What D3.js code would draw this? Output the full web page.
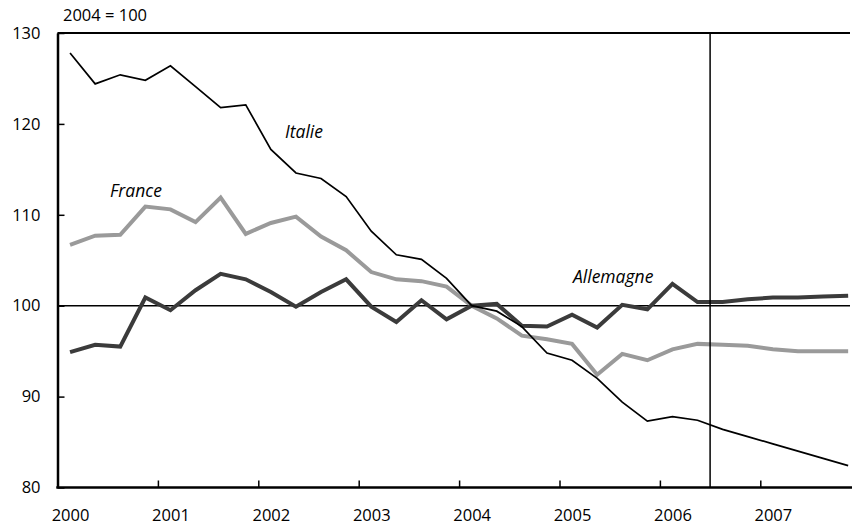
<!DOCTYPE html>
<html>
<head>
<meta charset="utf-8">
<script src="https://cdn.jsdelivr.net/npm/d3@7"></script>
<style>
  html, body { margin: 0; padding: 0; background: #fff; }
  svg { display: block; font-family: "Open Sans", sans-serif; }
</style>
</head>
<body>
<svg id="chart" width="854" height="529"></svg>
<script>
// Quarterly data, 2000Q1 .. 2007Q4 (2004 = 100)
const years = [2000, 2001, 2002, 2003, 2004, 2005, 2006, 2007];
const yTicks = [80, 90, 100, 110, 120, 130];
const italie = [127.8, 124.4, 125.4, 124.8, 126.4, 124.1, 121.8, 122.1,
                117.2, 114.6, 114.0, 112.0, 108.2, 105.6, 105.1, 103.0,
                100.0, 99.4, 97.7, 94.8, 94.0, 92.0, 89.4, 87.3,
                87.8, 87.4, 86.4, 85.6, 84.8, 84.0, 83.2, 82.4];
const france = [106.7, 107.7, 107.8, 110.9, 110.6, 109.2, 111.9, 107.9,
                109.1, 109.8, 107.6, 106.1, 103.7, 102.9, 102.7, 102.1,
                100.0, 98.6, 96.7, 96.3, 95.8, 92.4, 94.7, 94.0,
                95.2, 95.8, 95.7, 95.6, 95.2, 95.0, 95.0, 95.0];
const allemagne = [94.9, 95.7, 95.5, 100.9, 99.5, 101.7, 103.5, 102.9,
                   101.5, 99.9, 101.5, 102.9, 99.9, 98.2, 100.6, 98.5,
                   100.0, 100.2, 97.8, 97.7, 99.0, 97.6, 100.1, 99.6,
                   102.4, 100.4, 100.4, 100.7, 100.9, 100.9, 101.0, 101.1];
const forecastStart = 2006.5;
const baseValue = 100;

(function () {
const svg = d3.select("#chart");
const pL = 57.5, pT = 33, pB = 487.5, pR = 850;

const x = d3.scaleLinear().domain([2000, 2008]).range([pL, pL + 8 * 100.4]);
const y = d3.scaleLinear().domain([80, 130]).range([pB, pT]);

const tOf = i => 2000 + Math.floor(i / 4) + ((i % 4) + 0.5) / 4;

// 100 reference line
svg.append("line")
  .attr("x1", pL).attr("x2", pR)
  .attr("y1", y(baseValue)).attr("y2", y(baseValue))
  .attr("stroke", "#000").attr("stroke-width", 1.5);

// series
const line = d3.line().x((d, i) => x(tOf(i))).y(d => y(d));
svg.append("path").datum(france).attr("d", line)
  .attr("fill", "none").attr("stroke", "#9a9a9a").attr("stroke-width", 4)
  .attr("stroke-linejoin", "miter");
svg.append("path").datum(allemagne).attr("d", line)
  .attr("fill", "none").attr("stroke", "#3b3b3b").attr("stroke-width", 4)
  .attr("stroke-linejoin", "miter");
svg.append("path").datum(italie).attr("d", line)
  .attr("fill", "none").attr("stroke", "#000").attr("stroke-width", 1.7)
  .attr("stroke-linejoin", "miter");

// forecast vertical line
svg.append("line")
  .attr("x1", x(forecastStart)).attr("x2", x(forecastStart))
  .attr("y1", pT).attr("y2", pB)
  .attr("stroke", "#000").attr("stroke-width", 1.5);

// top border
svg.append("line")
  .attr("x1", pL).attr("x2", pR)
  .attr("y1", pT).attr("y2", pT)
  .attr("stroke", "#000").attr("stroke-width", 2);

// y axis
const yAxis = d3.axisLeft(y).tickValues(yTicks).tickSizeInner(-7).tickSizeOuter(0).tickPadding(17);
const gy = svg.append("g").attr("transform", `translate(${pL},0)`).call(yAxis);
gy.select(".domain").attr("stroke-width", 2.5);
gy.selectAll(".tick line").attr("stroke-width", 1.5);
gy.selectAll(".tick text").attr("font-size", 16.5).attr("fill", "#000")
  .attr("font-family", "'Open Sans', sans-serif");

// x axis
const xAxis = d3.axisBottom(x).tickValues(years).tickSizeInner(-7).tickSizeOuter(0)
  .tickFormat(d3.format("d")).tickPadding(22);
const gx = svg.append("g").attr("transform", `translate(0,${pB})`).call(xAxis);
gx.select(".domain").attr("d", `M${pL - 1.2},0H${pR + 2}`).attr("stroke-width", 2.5);
gx.selectAll(".tick line").attr("stroke-width", 1.5);
gx.selectAll(".tick text").attr("font-size", 16.5).attr("fill", "#000")
  .attr("font-family", "'Open Sans', sans-serif")
  .attr("dx", x(2000.125) - x(2000));

// unit label
svg.append("text").attr("x", 63).attr("y", 21).attr("font-size", 16.5).text("2004 = 100");

// series labels
const lab = (t, xx, yy) => svg.append("text").attr("x", xx).attr("y", yy)
  .attr("font-size", 17.5).attr("font-style", "italic").text(t);
lab("Italie", 285, 138);
lab("France", 110, 197);
lab("Allemagne", 573, 283);
})();
</script>
</body>
</html>
